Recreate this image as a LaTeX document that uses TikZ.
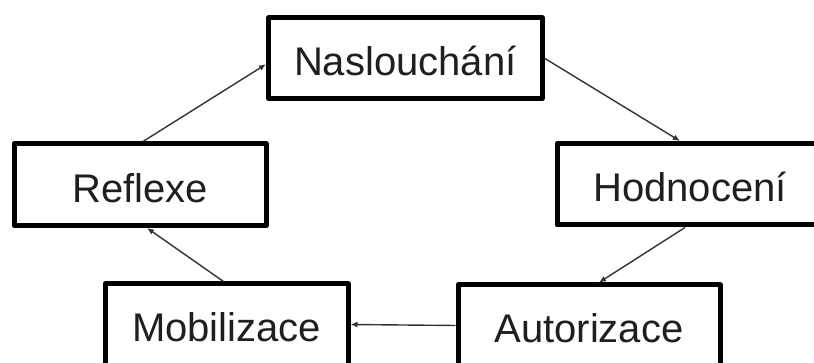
\documentclass[tikz,border=0pt]{standalone}
\usepackage{fontspec}
\setmainfont{Liberation Sans}
\usetikzlibrary{arrows.meta}
\begin{document}
\begin{tikzpicture}[x=1pt,y=-1pt,
  stage/.style={draw=black, line width=5pt, line join=round, inner sep=0pt,
    text=black!88, font=\fontsize{40}{48}\selectfont, fill=white,
    text height=34.8pt, text depth=0pt},
  conn/.style={draw=black!80, line width=1.4pt,
    -{Latex[length=7pt,width=6pt]}}]
\useasboundingbox (0,0) rectangle (814,363);
\clip (0,0) rectangle (814,363);
\node[stage, minimum width=273.5pt, minimum height=80.5pt] (nasl) at (405.25,58.25) {Naslouchání};
\node[stage, minimum width=252pt, minimum height=81.5pt] (refl) at (140,184.75) {Reflexe};
\node[stage, minimum width=266pt, minimum height=81.5pt] (hodn) at (690,184.25) {Hodnocení};
\node[stage, minimum width=243pt, minimum height=81pt] (mobi) at (226.5,324.5) {Mobilizace};
\node[stage, minimum width=262pt, minimum height=81pt] (auto) at (589,325.5) {Autorizace};
\draw[conn] ([xshift=3pt]refl.north) -- ([yshift=-6pt]nasl.west);
\draw[conn] (nasl.east) -- ([xshift=-10pt]hodn.north);
\draw[conn] ([xshift=-5pt]hodn.south) -- ([xshift=10pt]auto.north);
\draw[conn] (auto.west) -- (mobi.east);
\draw[conn] ([xshift=-3pt]mobi.north) -- ([xshift=7pt]refl.south);
\end{tikzpicture}
\end{document}
